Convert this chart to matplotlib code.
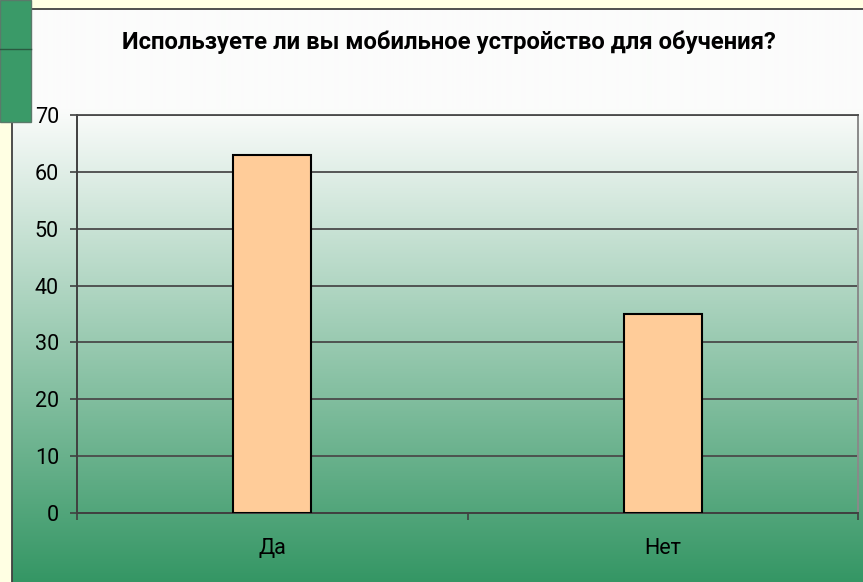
import numpy as np
import matplotlib
matplotlib.use('Agg')
import matplotlib.pyplot as plt
from matplotlib.patches import Rectangle

plt.rcParams['font.family'] = ['Roboto', 'DejaVu Sans']

categories = ['Да', 'Нет']
values = [63, 35]
title = 'Используете ли вы мобильное устройство для обучения?'

W, H = 863, 582
fig = plt.figure(figsize=(W / 100, H / 100), dpi=100)

# ── background: slide strip, panel with white→green gradient ────────────────
bg = fig.add_axes([0, 0, 1, 1])
bg.set_xlim(0, W)
bg.set_ylim(H, 0)
bg.axis('off')
bg.add_patch(Rectangle((0, 0), W, H, color='#ffffe3', zorder=0))

top_col = np.array([251, 252, 251]) / 255
bot_col = np.array([52, 150, 100]) / 255
rows = np.arange(H - 9)
t = np.clip((rows - 100) / (H - 9 - 100), 0, 1)[:, None]
grad = (1 - t) * top_col + t * bot_col
grad = np.repeat(grad[:, None, :], 2, axis=1)
bg.imshow(grad, extent=(12, W, H, 9), aspect='auto', zorder=1,
          interpolation='bilinear')
bg.plot([12, 12, W], [H, 9, 9], color='#404040', lw=1.3, zorder=2)

# slide decoration in the corner
bg.add_patch(Rectangle((0, 0), 31, 122, facecolor='#3a9a68',
                       edgecolor='#5a7a6a', lw=1, zorder=3))
bg.plot([0, 31], [49, 49], color='#2a5a40', lw=1, zorder=4)

# ── chart ───────────────────────────────────────────────────────────────────
ax = fig.add_axes([77 / W, 1 - 513 / H, (858 - 77) / W, (513 - 115) / H])
ax.patch.set_alpha(0)
x = np.arange(len(categories)) + 0.5
ax.bar(x, values, width=0.2, color='#ffcc99', edgecolor='black',
       linewidth=1.5, zorder=3)

ax.set_xlim(0, len(categories))
ax.set_ylim(0, 70)
ax.set_yticks(np.arange(0, 71, 10))
ax.yaxis.grid(True, color='#4a4a4a', linewidth=1.3, zorder=1)
ax.set_axisbelow(True)

ax.set_xticks(x)
ax.set_xticklabels(categories)
ax.set_xticks(np.arange(len(categories) + 1), minor=True)
ax.tick_params(axis='x', which='major', length=0, pad=18, labelsize=15.5)
ax.tick_params(axis='x', which='minor', length=5, color='#404040', width=1.2,
               direction='out')
ax.tick_params(axis='y', length=5, color='#404040', width=1.2, pad=8,
               labelsize=15.5)

for s in ['left', 'bottom']:
    ax.spines[s].set_color('#404040')
    ax.spines[s].set_linewidth(1.4)
ax.spines['top'].set_color('#4a4a4a')
ax.spines['top'].set_linewidth(1.3)
ax.spines['right'].set_color('#8a8a8a')
ax.spines['right'].set_linewidth(1.4)

fig.text(449 / W, 1 - 42 / H, title, ha='center', va='center',
         fontsize=17.2, fontweight='bold')

fig.savefig('out.png', dpi=100)
